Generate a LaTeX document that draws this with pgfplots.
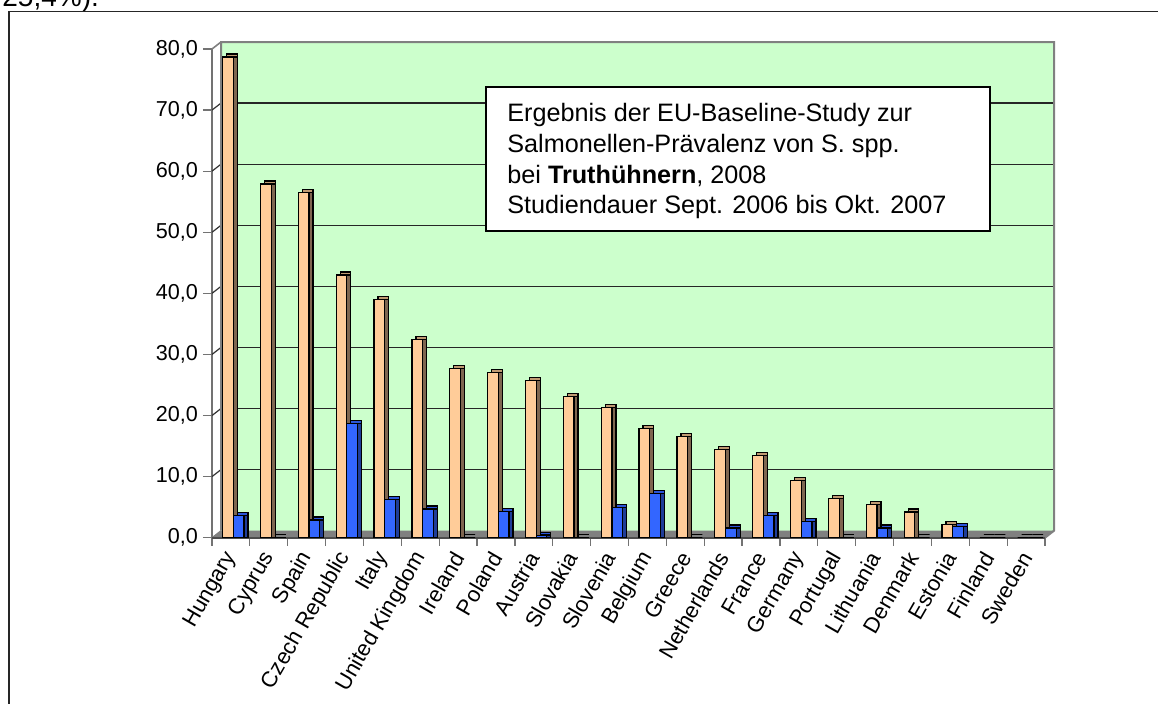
\documentclass[border=0pt]{standalone}
\usepackage{pgfplots}
\pgfplotsset{compat=1.18}
\usepackage{pgfplotstable}
\usepackage{fontspec}
\setmainfont{Liberation Sans}
\definecolor{wall}{HTML}{CCFFCC}
\definecolor{floorc}{HTML}{808080}
\definecolor{orfront}{HTML}{FFCC99}
\definecolor{ortop}{HTML}{C09A72}
\definecolor{orside}{HTML}{7F6650}
\definecolor{blfront}{HTML}{3366FF}
\definecolor{bltop}{HTML}{2B55D9}
\definecolor{blside}{HTML}{1F3D99}

\pgfplotstableread{
idx a b
0 78.7 3.7
1 57.9 0
2 56.5 2.9
3 43.0 18.7
4 39.0 6.3
5 32.4 4.7
6 27.7 0
7 27.1 4.3
8 25.7 0.3
9 23.1 0
10 21.3 4.9
11 17.9 7.3
12 16.6 0
13 14.4 1.6
14 13.5 3.7
15 9.3 2.6
16 6.4 0
17 5.5 1.6
18 4.2 0
19 2.1 1.8
20 0 0
21 0 0
}\datatable

\begin{document}
\begin{tikzpicture}
\begin{scope}[x=0.5pt,y=-0.5pt]
\useasboundingbox (0,0) rectangle (1158,700);
\node[anchor=base west,font=\fontsize{14}{16}\selectfont,inner sep=0pt] at (2,6) {25,4\%).};
\draw[black!85,line width=0.8pt] (9,11.5) rectangle (1220,760);
\end{scope}
\begin{axis}[
  at={(106pt,-268.85pt)}, anchor=south west,
  width=416.5pt, height=244.35pt, scale only axis,
  xmin=-0.5, xmax=21.5, ymin=0, ymax=80,
  clip=false,
  axis x line*=bottom, axis y line*=left,
  axis line style={black!55, line width=0.8pt},
  ytick={0,10,...,80},
  yticklabel style={font=\fontsize{10.8}{12}\selectfont, xshift=1pt,
    /pgf/number format/.cd, fixed, fixed zerofill, precision=1, use comma, assume math mode=true},
  xtick={0,...,21},
  xticklabels={Hungary,Cyprus,Spain,Czech Republic,Italy,United Kingdom,Ireland,Poland,Austria,Slovakia,Slovenia,Belgium,Greece,Netherlands,France,Germany,Portugal,Lithuania,Denmark,Estonia,Finland,Sweden},
  xticklabel style={font=\fontsize{11}{12}\selectfont, rotate=60, anchor=east, xshift=0.5pt, yshift=-2pt},
  minor xtick={-0.5,0.5,...,21.5},
  tick align=outside, major tick length=4.5pt, minor tick length=4pt,
  tick style={black!55, line width=0.6pt},
  major x tick style={draw=none},
]
% back wall
\fill[wall] ([shift={(4.5pt,3.5pt)}]axis cs:-0.5,0) rectangle ([shift={(4.5pt,3.5pt)}]axis cs:21.5,80);
\pgfplotsinvokeforeach{10,20,...,70}{
  \draw[black!85, line width=0.6pt] ([shift={(4.5pt,3.5pt)}]axis cs:-0.5,#1) -- ([shift={(4.5pt,3.5pt)}]axis cs:21.5,#1);
  \draw[black!80, line width=0.6pt] (axis cs:-0.5,#1) -- ([shift={(4.5pt,3.5pt)}]axis cs:-0.5,#1);
}
% floor
\fill[floorc] (axis cs:-0.5,0) -- (axis cs:21.5,0) -- ([shift={(4.5pt,3.5pt)}]axis cs:21.5,0) -- ([shift={(4.5pt,3.5pt)}]axis cs:-0.5,0) -- cycle;
\draw[black!50, line width=1pt] ([shift={(4.5pt,3.5pt)}]axis cs:-0.5,0) -- ([shift={(4.5pt,3.5pt)}]axis cs:-0.5,80) -- ([shift={(4.5pt,3.5pt)}]axis cs:21.5,80) -- ([shift={(4.5pt,3.5pt)}]axis cs:21.5,0) -- (axis cs:21.5,0);
\draw[black!50, line width=0.8pt] (axis cs:-0.5,80) -- ([shift={(4.5pt,3.5pt)}]axis cs:-0.5,80);
\draw[black!50, line width=0.6pt] (axis cs:-0.5,0) -- ([shift={(4.5pt,3.5pt)}]axis cs:-0.5,0);
\draw[black!70, line width=0.8pt] (axis cs:-0.5,0) -- (axis cs:21.5,0);
% orange bars
\addplot[ybar, bar width=5.35pt, bar shift=0.5pt, yshift=1.5pt, fill=ortop, draw=black, line width=0.6pt] table[x=idx,y=a] {\datatable};
\addplot[ybar, bar width=5.35pt, bar shift=0.5pt, fill=orside, draw=black, line width=0.6pt] table[x=idx,y=a] {\datatable};
\addplot[ybar, bar width=5.35pt, bar shift=-1.5pt, fill=orfront, draw=black, line width=0.6pt] table[x=idx,y=a] {\datatable};
% blue bars
\addplot[ybar, bar width=5.35pt, bar shift=5.85pt, yshift=1.5pt, fill=bltop, draw=black, line width=0.6pt] table[x=idx,y=b] {\datatable};
\addplot[ybar, bar width=5.35pt, bar shift=5.85pt, fill=blside, draw=black, line width=0.6pt] table[x=idx,y=b] {\datatable};
\addplot[ybar, bar width=5.35pt, bar shift=3.85pt, fill=blfront, draw=black, line width=0.6pt] table[x=idx,y=b] {\datatable};
\end{axis}
\begin{scope}[x=0.5pt,y=-0.5pt]
\draw[black, line width=0.8pt, fill=white] (486,87) rectangle (990,231);
\begin{scope}[every node/.style={anchor=base west, inner sep=0pt, font=\fontsize{12.6}{15}\selectfont}]
\node at (507,121.5) {Ergebnis der EU-Baseline-Study zur};
\node at (507,152.3) {Salmonellen-Prävalenz von S. spp.};
\node at (507,183.1) {bei \textbf{Truthühnern}, 2008};
\node at (507,213.9) {Studiendauer Sept. 2006 bis Okt. 2007};
\end{scope}
\end{scope}
\end{tikzpicture}
\end{document}
